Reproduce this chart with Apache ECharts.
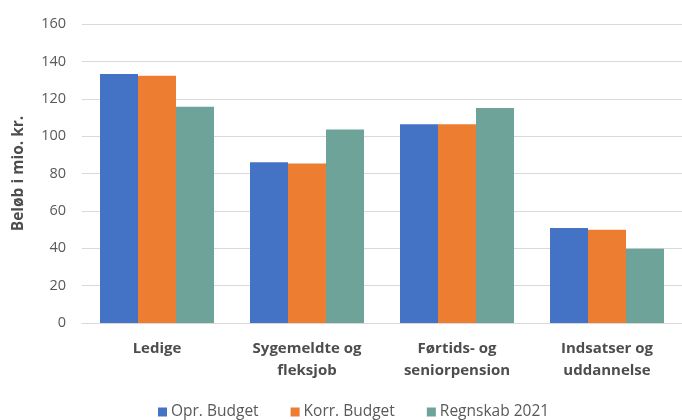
<!DOCTYPE html>
<html><head><meta charset="utf-8">
<script src="https://cdn.jsdelivr.net/npm/echarts@6/dist/echarts.min.js"></script>
<style>html,body{margin:0;padding:0;background:#fff}#c{width:682px;height:420px}</style>
</head><body><div id="c"></div>
<script>
const categories = ['Ledige', 'Sygemeldte og\nfleksjob', 'Førtids- og\nseniorpension', 'Indsatser og\nuddannelse'];
const oprBudget = [133.3, 86.0, 106.3, 50.9];
const korrBudget = [132.3, 85.4, 106.3, 49.9];
const regnskab2021 = [115.7, 103.6, 115.0, 39.7];
const seriesNames = ['Opr. Budget', 'Korr. Budget', 'Regnskab 2021'];
const colors = ['#4472C4', '#ED7D31', '#6DA398'];
const font = 'Open Sans';
const chart = echarts.init(document.getElementById('c'));
chart.setOption({
  animation: false,
  color: colors,
  textStyle: { fontFamily: font },
  grid: { left: 82, right: 0, top: 24, bottom: 97 },
  legend: {
    top: 399, left: 153, itemWidth: 9, itemHeight: 9, itemGap: 32, icon: 'rect',
    textStyle: { fontSize: 15.5, color: '#595959', fontFamily: font, padding: [0, 0, 0, -1] },
    data: seriesNames
  },
  xAxis: {
    type: 'category', data: categories,
    axisLine: { lineStyle: { color: '#d9d9d9' } },
    axisTick: { show: false },
    axisLabel: { fontSize: 15, fontWeight: 'bold', color: '#4d4d4d', lineHeight: 22, margin: 15 }
  },
  yAxis: {
    type: 'value', min: 0, max: 160, interval: 20,
    name: 'Beløb i mio. kr.', nameLocation: 'middle', nameGap: 55,
    nameTextStyle: { fontSize: 15.5, fontWeight: 'bold', color: '#4d4d4d' },
    axisLine: { show: false }, axisTick: { show: false },
    axisLabel: { fontSize: 14.5, color: '#595959', margin: 16 },
    splitLine: { lineStyle: { color: '#d9d9d9' } }
  },
  series: [
    { name: seriesNames[0], type: 'bar', data: oprBudget, barGap: '0%', barCategoryGap: '24%' },
    { name: seriesNames[1], type: 'bar', data: korrBudget, barGap: '0%', barCategoryGap: '24%' },
    { name: seriesNames[2], type: 'bar', data: regnskab2021, barGap: '0%', barCategoryGap: '24%' }
  ]
});
</script></body></html>
